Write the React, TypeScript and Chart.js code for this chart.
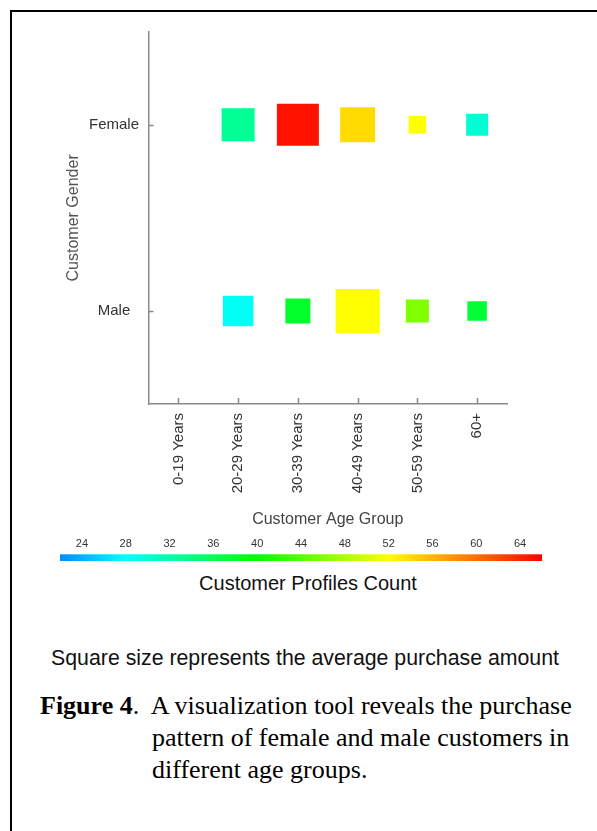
import React, { useEffect, useRef } from 'react';
import { Chart, registerables } from 'chart.js';

Chart.register(...registerables);

// ---------- data ----------
const ageGroups = ['0-19 Years', '20-29 Years', '30-39 Years', '40-49 Years', '50-59 Years', '60+'];
const genders = ['Female', 'Male'];
// customer profiles count (colour of the square); null = no square
const femaleCount: (number | null)[] = [null, 33, 65, 54, 52, 30];
const maleCount: (number | null)[] = [null, 28.5, 38, 52, 46, 37.5];
// average purchase amount (size of the square)
const femaleAvgPurchase: (number | null)[] = [null, 66, 84, 70, 35, 44];
const maleAvgPurchase: (number | null)[] = [null, 61, 50, 88, 46, 39];
// colour bar
const colorTicks = [24, 28, 32, 36, 40, 44, 48, 52, 56, 60, 64];
const colorMin = 22;
const colorMax = 66;

// ---------- styles ----------
const SANS = '"Liberation Sans", Arial, Helvetica, sans-serif';
const SERIF = '"Liberation Serif", "Times New Roman", Times, serif';
const AXIS_COLOR = '#8a8a8a';
const SIZE_SCALE = 0.5; // px of square side per purchase unit
const colorStops: [number, [number, number, number]][] = [
  [22, [0, 140, 255]],
  [28, [0, 255, 255]],
  [40, [0, 255, 0]],
  [52, [255, 255, 0]],
  [66, [255, 0, 0]],
];

function countColor(v: number): string {
  for (let i = 0; i < colorStops.length - 1; i++) {
    const [a, ca] = colorStops[i];
    const [b, cb] = colorStops[i + 1];
    if (v <= b || i === colorStops.length - 2) {
      const t = Math.max(0, Math.min(1, (v - a) / (b - a)));
      const c = ca.map((x, k) => Math.round(x + (cb[k] - x) * t));
      return `rgb(${c[0]},${c[1]},${c[2]})`;
    }
  }
  return 'red';
}

function buildPoints(gender: string, counts: (number | null)[], avgs: (number | null)[]) {
  const pts: any[] = [];
  ageGroups.forEach((a, i) => {
    const c = counts[i];
    const s = avgs[i];
    if (c != null && s != null) pts.push({ x: a, y: gender, count: c, avg: s });
  });
  return pts;
}

const inwardTicks = {
  id: 'inwardTicks',
  afterDraw(chart: any) {
    const { ctx, chartArea, scales } = chart;
    const x = scales.x;
    const y = scales.y;
    ctx.save();
    ctx.strokeStyle = AXIS_COLOR;
    ctx.lineWidth = 1.5;
    x.ticks.forEach((_t: any, i: number) => {
      const px = Math.round(x.getPixelForTick(i)) + 0.5;
      ctx.beginPath();
      ctx.moveTo(px, chartArea.bottom);
      ctx.lineTo(px, chartArea.bottom - 6);
      ctx.stroke();
    });
    y.ticks.forEach((_t: any, i: number) => {
      const py = Math.round(y.getPixelForTick(i)) + 0.5;
      ctx.beginPath();
      ctx.moveTo(chartArea.left, py);
      ctx.lineTo(chartArea.left + 5, py);
      ctx.stroke();
    });
    ctx.restore();
  },
};

const gradientBar = {
  id: 'gradientBar',
  beforeDatasetsDraw(chart: any) {
    const { ctx, chartArea, scales } = chart;
    const x = scales.x;
    const x0 = x.getPixelForValue(colorMin);
    const x1 = x.getPixelForValue(colorMax);
    const g = ctx.createLinearGradient(x0, 0, x1, 0);
    colorStops.forEach(([v, c]) => {
      g.addColorStop((x.getPixelForValue(v) - x0) / (x1 - x0), `rgb(${c[0]},${c[1]},${c[2]})`);
    });
    ctx.save();
    ctx.fillStyle = g;
    ctx.fillRect(chartArea.left, chartArea.top, chartArea.right - chartArea.left, chartArea.bottom - chartArea.top);
    ctx.restore();
  },
};

export default function App() {
  const mainRef = useRef<HTMLCanvasElement>(null);
  const barRef = useRef<HTMLCanvasElement>(null);

  useEffect(() => {
    if (!mainRef.current || !barRef.current) return;
    const pointStyleOpts = {
      pointStyle: 'rect',
      pointBorderWidth: 0,
      pointRadius: (c: any) => (c.raw ? (c.raw.avg * SIZE_SCALE) / Math.SQRT2 : 0),
      pointBackgroundColor: (c: any) => (c.raw ? countColor(c.raw.count) : 'transparent'),
    };
    const main = new Chart(mainRef.current, {
      type: 'scatter',
      data: {
        datasets: [
          { label: 'Female', data: buildPoints('Female', femaleCount, femaleAvgPurchase), ...pointStyleOpts } as any,
          { label: 'Male', data: buildPoints('Male', maleCount, maleAvgPurchase), ...pointStyleOpts } as any,
        ],
      },
      options: {
        animation: false,
        responsive: false,
        events: [],
        layout: { autoPadding: false, padding: { top: 19.7, right: 90, bottom: 7.4, left: 0 } },
        plugins: { legend: { display: false }, tooltip: { enabled: false } },
        scales: {
          x: {
            type: 'category',
            labels: ageGroups,
            offset: true,
            grid: { display: false, drawTicks: false },
            border: { display: true, color: AXIS_COLOR, width: 1.5 },
            ticks: {
              autoSkip: false,
              minRotation: 90,
              maxRotation: 90,
              padding: 9,
              color: '#333',
              font: { family: SANS, size: 15 },
            },
            title: {
              display: true,
              text: 'Customer Age Group',
              color: '#444',
              font: { family: SANS, size: 16 },
              padding: { top: 12, bottom: 0 },
            },
            afterFit: (s: any) => {
              s.height = 125.6;
            },
          },
          y: {
            type: 'category',
            labels: genders,
            offset: true,
            grid: { display: false, drawTicks: false },
            border: { display: true, color: AXIS_COLOR, width: 1.5 },
            ticks: {
              crossAlign: 'center',
              padding: 9.5,
              color: '#333',
              font: { family: SANS, size: 15 },
            },
            title: {
              display: true,
              text: 'Customer Gender',
              color: '#555',
              font: { family: SANS, size: 16 },
              padding: { top: 52.4, bottom: 0 },
            },
            afterFit: (s: any) => {
              s.width = 136.5;
            },
          },
        } as any,
      },
      plugins: [inwardTicks],
    });

    const bar = new Chart(barRef.current, {
      type: 'scatter',
      data: { datasets: [] },
      options: {
        animation: false,
        responsive: false,
        events: [],
        layout: { autoPadding: false, padding: { top: 0, right: 55, bottom: 0, left: 48 } },
        plugins: { legend: { display: false }, tooltip: { enabled: false } },
        scales: {
          x: {
            type: 'linear',
            position: 'top',
            min: colorMin,
            max: colorMax,
            afterBuildTicks: (s: any) => {
              s.ticks = colorTicks.map((v) => ({ value: v }));
            },
            grid: { display: false, drawTicks: false },
            border: { display: false },
            ticks: {
              autoSkip: false,
              maxRotation: 0,
              padding: 3.7,
              color: '#333',
              font: { family: SANS, size: 11 },
            },
            afterFit: (s: any) => {
              s.height = 17.3;
            },
          },
          y: { display: false, min: 0, max: 1 },
        } as any,
      },
      plugins: [gradientBar],
    });

    return () => {
      main.destroy();
      bar.destroy();
    };
  }, []);

  return (
    <div
      style={{
        position: 'absolute',
        left: 10,
        top: 10,
        width: 585,
        height: 819,
        borderLeft: '2px solid #000',
        borderTop: '2px solid #000',
        overflow: 'hidden',
        background: '#fff',
      }}
    >
      <canvas ref={mainRef} width={585} height={525} style={{ position: 'absolute', left: 0, top: 0, width: 585, height: 525 }} />
      <canvas ref={barRef} width={585} height={24} style={{ position: 'absolute', left: 0, top: 525, width: 585, height: 24 }} />
      <div
        style={{
          position: 'absolute',
          left: 96,
          top: 559,
          width: 400,
          textAlign: 'center',
          fontFamily: SANS,
          fontSize: 20,
          lineHeight: '24px',
          color: '#111',
        }}
      >
        Customer Profiles Count
      </div>
      <div
        style={{
          position: 'absolute',
          left: 0,
          top: 633,
          width: 586,
          textAlign: 'center',
          fontFamily: SANS,
          fontSize: 21.3,
          lineHeight: '26px',
          color: '#111',
        }}
      >
        Square size represents the average purchase amount
      </div>
      <div
        style={{
          position: 'absolute',
          left: 28,
          top: 678,
          width: 560,
          fontFamily: SERIF,
          fontSize: 26,
          lineHeight: '32px',
          color: '#000',
          whiteSpace: 'nowrap',
        }}
      >
        <div>
          <b>Figure 4</b>.&nbsp; A visualization tool reveals the purchase
        </div>
        <div style={{ paddingLeft: 112 }}>pattern of female and male customers in</div>
        <div style={{ paddingLeft: 112 }}>different age groups.</div>
      </div>
    </div>
  );
}
